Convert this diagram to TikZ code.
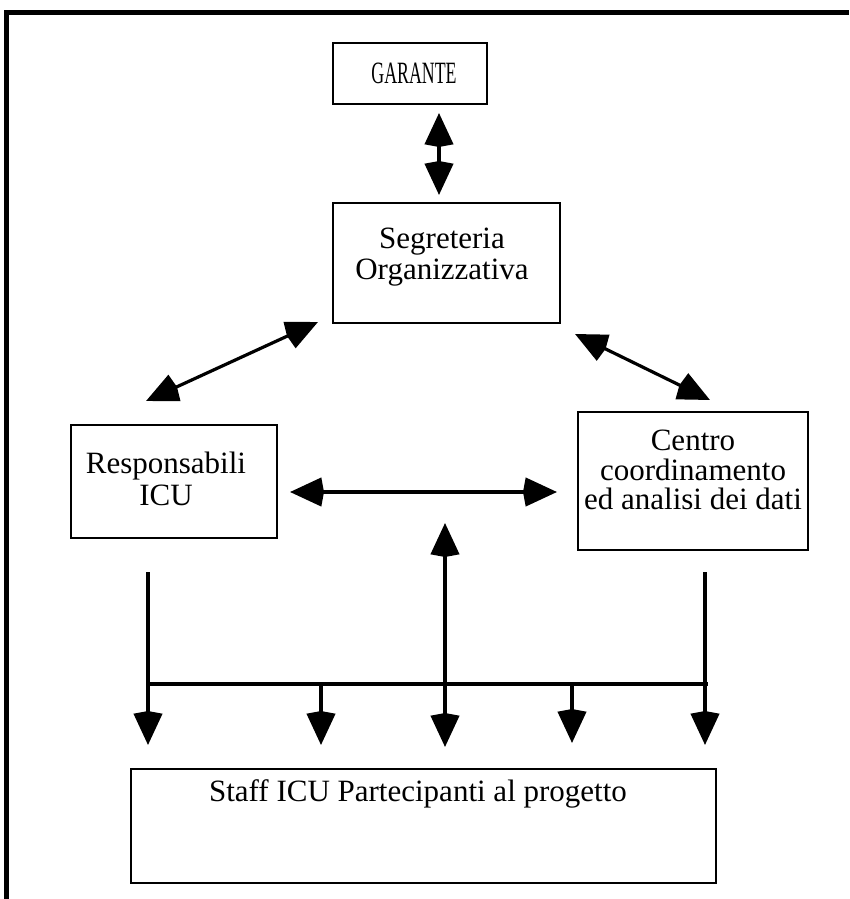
\documentclass[tikz,border=0pt]{standalone}
\usepackage{fontspec}
\setmainfont{Liberation Serif}
\usetikzlibrary{arrows.meta}
\begin{document}
\begin{tikzpicture}[x=1pt,y=-1pt,
  box/.style={draw, line width=2.7pt, inner sep=0pt},
  txt/.style={inner sep=0pt, align=center, font=\fontsize{31}{30}\selectfont},
  dbl/.style={line width=3.2pt, {Stealth[length=31pt,width=28pt,inset=-3pt]}-{Stealth[length=31pt,width=28pt,inset=-3pt]}},
  one/.style={line width=3.2pt, -{Stealth[length=31pt,width=28pt,inset=-3pt]}},
  wire/.style={line width=3.2pt}]
\useasboundingbox (0,0) rectangle (849,899);
% frame
\coordinate (fa) at (6.5,899);
\coordinate (fb) at (6.5,12.5);
\coordinate (fc) at (849,12.5);
\draw[line width=4.5pt, line join=miter] (fa) -- (fb) -- (fc);
% boxes
\node[box, minimum width=154pt, minimum height=61pt] (garante) at (410,73.5) {};
\node[txt] (garantetxt) at (414,73) {\scalebox{0.575}[1]{GARANTE}};
\node[box, minimum width=227pt, minimum height=120pt] (segr) at (446.5,263) {};
\node[txt, font=\fontsize{31}{31}\selectfont] (segrtxt) at (442,257) {Segreteria\\Organizzativa};
\node[box, minimum width=206pt, minimum height=113pt] (resp) at (174,481.5) {};
\node[txt, font=\fontsize{31}{32}\selectfont] (resptxt) at (166,479) {Responsabili\\ICU};
\node[box, minimum width=230pt, minimum height=138pt] (centro) at (693,481) {};
\node[txt, font=\fontsize{31}{29.5}\selectfont] (centrotxt) at (693,470) {Centro\\coordinamento\\ed analisi dei dati};
\node[box, minimum width=585pt, minimum height=114pt] (staff) at (423.5,826) {};
\node[txt] (stafftxt) at (418,794) {Staff ICU Partecipanti al progetto};
% arrow garante-segreteria
\coordinate (g1) at (439,113);
\coordinate (g2) at (439,195);
\draw[dbl] (g1) -- (g2);
% diagonals
\coordinate (l1) at (318,322);
\coordinate (l2) at (146,401);
\draw[dbl] (l1) -- (l2);
\coordinate (r1) at (575,334);
\coordinate (r2) at (710,400);
\draw[dbl] (r1) -- (r2);
% horizontal
\coordinate (h1) at (290,492);
\coordinate (h2) at (557,492);
\draw[dbl] (h1) -- (h2);
% middle vertical
\coordinate (m1) at (445,523);
\coordinate (m2) at (445,747);
\draw[dbl] (m1) -- (m2);
% drops and bus
\coordinate (d1) at (148,572);
\coordinate (d2) at (705,572);
\coordinate (b1) at (148,684);
\coordinate (b2) at (708,684);
\draw[wire] (d1) -- (b1);
\draw[wire] (b1) -- (b2);
\coordinate (t1) at (148,745);
\coordinate (t2) at (321,745);
\coordinate (t4) at (572,743);
\coordinate (t5) at (705,745);
\coordinate (s2) at (321,684);
\coordinate (s4) at (572,684);
\draw[one] (b1) -- (t1);
\draw[one] (s2) -- (t2);
\draw[one] (s4) -- (t4);
\draw[one] (d2) -- (t5);
\end{tikzpicture}
\end{document}
